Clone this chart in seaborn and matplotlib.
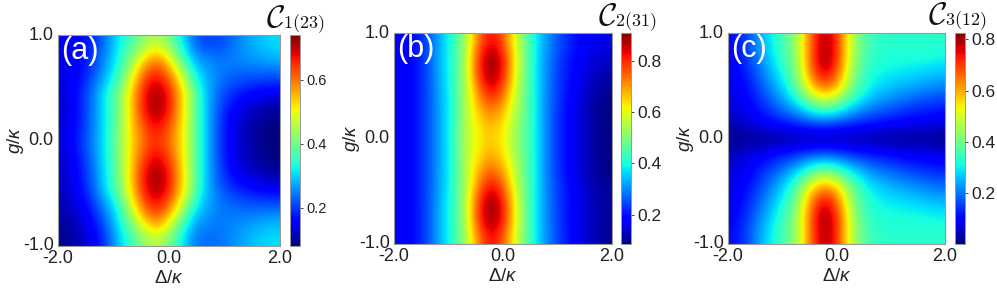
import numpy as np
import seaborn as sns
import matplotlib
matplotlib.use('Agg')
import matplotlib.pyplot as plt

# values, rows go from g=+1 down to g=-1, columns from delta=-2 to +2
c1_23 = [
    [.15, .16, .18, .23, .31, .36, .42, .46, .41, .31, .22, .20, .21, .24, .27, .29, .31],
    [.14, .16, .19, .25, .32, .41, .52, .60, .51, .37, .27, .25, .24, .25, .26, .27, .28],
    [.14, .16, .20, .27, .34, .46, .62, .67, .61, .47, .32, .27, .24, .23, .22, .22, .22],
    [.13, .17, .23, .31, .39, .52, .66, .73, .66, .53, .38, .27, .22, .19, .17, .16, .15],
    [.13, .17, .23, .31, .39, .52, .67, .73, .67, .53, .38, .27, .20, .15, .13, .11, .10],
    [.13, .17, .23, .31, .39, .52, .63, .69, .63, .52, .38, .27, .19, .14, .11, .09, .08],
    [.14, .18, .24, .31, .40, .52, .60, .65, .60, .52, .38, .27, .19, .14, .11, .09, .08],
    [.13, .17, .23, .31, .39, .52, .63, .69, .63, .52, .38, .27, .19, .14, .11, .09, .08],
    [.12, .16, .22, .30, .39, .52, .67, .73, .67, .53, .38, .27, .20, .15, .13, .11, .10],
    [.12, .16, .21, .30, .38, .52, .66, .73, .66, .53, .38, .27, .22, .19, .17, .16, .15],
    [.11, .14, .18, .25, .33, .46, .62, .67, .61, .47, .32, .27, .24, .23, .22, .22, .22],
    [.10, .12, .16, .22, .30, .41, .52, .60, .51, .37, .27, .25, .24, .25, .26, .27, .28],
    [.09, .11, .14, .19, .28, .35, .42, .46, .41, .31, .24, .23, .24, .26, .28, .30, .31],
]
c2_31 = [
    [.17, .19, .24, .33, .41, .52, .72, .84, .76, .58, .44, .34, .27, .22, .19, .17, .16],
    [.17, .19, .24, .33, .41, .53, .78, .91, .82, .60, .44, .33, .26, .21, .18, .15, .14],
    [.17, .19, .24, .33, .41, .53, .78, .91, .82, .59, .44, .33, .25, .20, .17, .14, .12],
    [.17, .19, .24, .32, .41, .53, .72, .85, .76, .57, .44, .33, .25, .20, .16, .12, .10],
    [.17, .19, .24, .32, .40, .54, .67, .76, .69, .55, .44, .33, .24, .19, .15, .11, .09],
    [.17, .19, .24, .32, .40, .55, .63, .69, .64, .53, .44, .33, .24, .19, .15, .11, .09],
    [.17, .19, .24, .32, .40, .55, .62, .66, .62, .52, .44, .33, .24, .19, .15, .11, .09],
    [.17, .19, .24, .32, .40, .55, .63, .69, .64, .53, .44, .33, .24, .19, .15, .11, .09],
    [.17, .19, .24, .32, .40, .54, .67, .76, .69, .55, .44, .33, .24, .19, .15, .11, .09],
    [.17, .19, .24, .32, .41, .53, .72, .85, .76, .57, .44, .33, .25, .20, .16, .12, .10],
    [.17, .19, .24, .33, .41, .53, .78, .91, .82, .59, .44, .33, .25, .20, .16, .13, .11],
    [.17, .19, .24, .33, .41, .53, .78, .91, .82, .60, .44, .33, .25, .20, .16, .13, .10],
    [.17, .19, .24, .33, .41, .52, .72, .84, .76, .58, .44, .33, .26, .20, .16, .13, .10],
]
c3_12 = [
    [.11, .16, .24, .31, .37, .46, .67, .80, .72, .50, .38, .34, .33, .33, .33, .33, .33],
    [.10, .15, .22, .29, .36, .46, .68, .82, .72, .50, .37, .33, .32, .32, .32, .32, .31],
    [.09, .13, .19, .26, .33, .44, .65, .78, .68, .47, .35, .31, .30, .29, .28, .27, .26],
    [.08, .11, .16, .22, .29, .39, .55, .63, .57, .42, .33, .28, .26, .24, .23, .21, .20],
    [.07, .09, .13, .17, .22, .28, .36, .41, .37, .30, .25, .21, .19, .17, .15, .14, .13],
    [.05, .07, .09, .11, .13, .15, .17, .18, .17, .15, .13, .12, .11, .10, .09, .09, .08],
    [.00, .01, .01, .01, .02, .02, .02, .02, .02, .02, .02, .02, .01, .01, .01, .01, .00],
    [.05, .07, .09, .11, .13, .15, .17, .18, .17, .15, .13, .12, .11, .10, .09, .09, .08],
    [.07, .09, .13, .17, .22, .28, .36, .41, .37, .30, .25, .21, .19, .17, .15, .14, .13],
    [.08, .11, .16, .22, .29, .39, .55, .63, .57, .42, .33, .28, .26, .24, .23, .21, .20],
    [.09, .13, .19, .26, .33, .44, .65, .78, .68, .47, .35, .31, .30, .29, .28, .27, .26],
    [.10, .15, .22, .29, .36, .46, .68, .82, .72, .50, .37, .33, .32, .32, .32, .32, .31],
    [.11, .16, .24, .31, .37, .46, .67, .80, .72, .50, .38, .34, .33, .33, .33, .33, .33],
]

panel_data = [c1_23, c2_31, c3_12]
panel_tags = ['(a)', '(b)', '(c)']
title_subs = ['1(23)', '2(31)', '3(12)']
color_limits = [(.08, .74), (.085, .91), (0.0, .825)]
cbar_ticks = [[.2, .4, .6], [.2, .4, .6, .8], [.2, .4, .6, .8]]
cbar_sizes = [10.5, 12.5, 12.5]
delta_ticks = [-2.0, 0.0, 2.0]
g_ticks = [1.0, 0.0, -1.0]

# pixel boxes: left, right of the map, left of the colour bar, top, bottom
boxes = [(58, 280, 290, 35, 246), (394, 612, 621, 33, 244), (728, 945, 955, 33, 244)]
# title: left of the C, left of the subscript, baseline
title_pos = [(266, 283, 27), (598, 615, 25), (928, 945, 24)]

sns.set_theme(style='white')
plt.rcParams['font.family'] = ['Liberation Sans', 'DejaVu Sans']
plt.rcParams['mathtext.fontset'] = 'custom'
plt.rcParams['mathtext.rm'] = 'Liberation Sans'
plt.rcParams['mathtext.it'] = 'Liberation Sans:italic'

W, H = 997, 292
fig = plt.figure(figsize=(W / 100, H / 100), dpi=100)

for i in range(3):
    left, right, cleft, top, bottom = boxes[i]
    ax = fig.add_axes([left / W, 1 - bottom / H, (right - left) / W, (bottom - top) / H])
    cax = fig.add_axes([cleft / W, 1 - bottom / H, 10 / W, (bottom - top) / H])
    data = np.array(panel_data[i])
    nrow, ncol = data.shape
    vmin, vmax = color_limits[i]
    sns.heatmap(data, ax=ax, cbar_ax=cax, cmap='jet', vmin=vmin, vmax=vmax,
                cbar_kws={'ticks': cbar_ticks[i]})
    # the cells are smoothed by the renderer, the source map looks continuous
    ax.collections[0].set_visible(False)
    ax.imshow(data, cmap='jet', vmin=vmin, vmax=vmax, interpolation='bicubic',
              extent=(0, ncol, nrow, 0), aspect='auto')
    ax.set_xlim(0, ncol)
    ax.set_ylim(nrow, 0)

    ax.set_xticks([(d + 2) / 4 * ncol for d in delta_ticks])
    ax.set_xticklabels([f'{d:.1f}' for d in delta_ticks], rotation=0)
    ax.set_yticks([(1 - g) / 2 * nrow for g in g_ticks])
    ax.set_yticklabels([f'{g:.1f}' for g in g_ticks], rotation=0)
    ax.tick_params(axis='both', length=0, pad=3, labelsize=13, colors='#222222')
    ax.set_xlabel(r'$\mathrm{\Delta}/\kappa$', fontsize=13.5, labelpad=2, color='#222222')
    ax.set_ylabel(r'$g/\kappa$', fontsize=13.5, labelpad=-2, color='#222222')
    for s in ax.spines.values():
        s.set_visible(True)
        s.set_color('#999999')
        s.set_linewidth(0.8)

    cax.tick_params(length=2.5, width=0.6, pad=2, labelsize=cbar_sizes[i], colors='#222222')
    cax.set_yticklabels([f'{t:.1f}' for t in cbar_ticks[i]])
    for s in cax.spines.values():
        s.set_visible(True)
        s.set_color('#999999')
        s.set_linewidth(0.6)

    ax.text(0.015, 0.995, panel_tags[i], transform=ax.transAxes, color='white',
            fontsize=22, ha='left', va='top')
    cx, sx, base = title_pos[i]
    fig.text(cx / W, 1 - base / H, r'$\mathcal{C}$', fontsize=23, math_fontfamily='cm',
             ha='left', va='baseline', color='#111111')
    fig.text(sx / W, 1 - (base + 1) / H, f'${title_subs[i]}$', fontsize=13, math_fontfamily='cm',
             ha='left', va='baseline', color='#111111')

fig.savefig('out.png', dpi=100)
